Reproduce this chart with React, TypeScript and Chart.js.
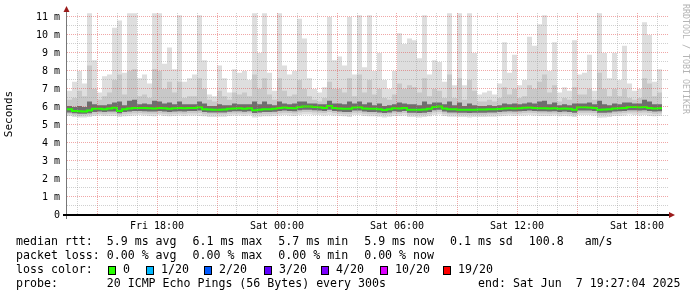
import React, { useEffect, useRef } from "react";
import { Chart, registerables } from "chart.js";

Chart.register(...registerables);

// ---- time window (hours since Fri 00:00) ----
const windowStartHour = 13.5;
const windowEndHour = 43.6;
const stepHours = 0.25;

// ---- axis tick labels ----
const xLabelHours = [18, 24, 30, 36, 42];
const xTickLabels = ["Fri 18:00", "Sat 00:00", "Sat 06:00", "Sat 12:00", "Sat 18:00"];
const yTickValues = [0, 1, 2, 3, 4, 5, 6, 7, 8, 9, 10, 11];
const yTickLabels = ["0", "1 m", "2 m", "3 m", "4 m", "5 m", "6 m", "7 m", "8 m", "9 m", "10 m", "11 m"];

// ---- series (ms) ----
const medianRtt = [
  5.88, 5.78, 5.76, 5.75, 5.8, 5.9, 5.9, 5.88, 5.92, 5.96, 5.78, 5.88, 5.92, 5.95, 5.95, 5.95, 5.93, 5.92, 5.95, 5.93, 5.9, 5.93, 5.95, 5.93, 5.95,
  5.95, 5.98, 5.88, 5.86, 5.85, 5.85, 5.86, 5.9, 5.92, 5.93, 5.9, 5.93, 5.82, 5.85, 5.88, 5.88, 5.9, 5.95, 5.97, 5.95, 5.93, 6.0, 6.02, 6.02,
  6.0, 5.98, 5.95, 6.05, 5.95, 5.92, 5.9, 5.9, 5.97, 5.98, 5.92, 5.9, 5.9, 5.88, 5.83, 5.88, 5.93, 5.92, 5.95, 5.85, 5.85, 5.84, 5.86, 5.9,
  6.0, 6.02, 5.92, 5.88, 5.88, 5.85, 5.85, 5.84, 5.85, 5.86, 5.86, 5.88, 5.88, 5.89, 5.92, 5.93, 5.92, 5.93, 5.96, 5.97, 5.95, 5.93, 5.93, 5.92,
  5.93, 5.9, 5.92, 5.9, 5.85, 5.98, 5.98, 5.97, 5.95, 5.85, 5.86, 5.87, 5.92, 5.93, 5.95, 6.0, 6.0, 5.98, 6.0, 5.95, 5.92, 5.93,
];

const smokeMax = [
  6.9, 7.4, 8.0, 7.3, 11.2, 8.6, 6.8, 7.7, 7.8, 10.4, 10.8, 7.9, 11.2, 11.2, 7.6, 7.8, 7.3, 11.2, 11.2, 8.4, 9.3, 8.1, 11.1, 7.4, 7.6,
  7.8, 11.1, 8.6, 6.7, 6.6, 8.3, 7.6, 6.8, 8.1, 7.9, 8.0, 7.5, 11.2, 9.0, 11.2, 7.9, 6.9, 11.2, 8.3, 7.8, 8.0, 10.9, 9.8, 7.6,
  7.0, 6.8, 7.1, 11.0, 8.6, 8.8, 8.3, 11.0, 7.8, 11.1, 8.2, 11.1, 8.0, 9.0, 7.5, 7.0, 8.0, 10.1, 9.5, 9.8, 9.7, 8.7, 11.1, 7.8,
  8.6, 8.5, 7.4, 11.2, 7.2, 11.2, 7.2, 11.2, 9.0, 6.7, 6.8, 6.9, 6.7, 7.3, 9.6, 7.9, 8.9, 7.2, 7.5, 9.9, 9.4, 10.6, 11.1, 8.0,
  9.6, 6.8, 7.1, 6.9, 9.7, 7.8, 7.9, 8.9, 6.9, 11.2, 9.0, 7.6, 9.0, 7.5, 9.4, 7.3, 6.9, 7.0, 10.7, 10.0, 7.4, 8.1,
];

const smokeHigh = [
  6.4, 6.5, 6.9, 6.6, 8.3, 7.0, 6.4, 6.6, 6.8, 7.5, 7.8, 6.7, 8.0, 8.1, 6.6, 6.7, 6.5, 8.1, 8.0, 7.0, 7.4, 6.8, 7.4, 6.5, 6.6,
  6.6, 7.6, 7.0, 6.4, 6.3, 6.9, 6.6, 6.4, 6.8, 6.7, 6.8, 6.6, 7.8, 7.0, 7.6, 6.7, 6.4, 7.6, 6.9, 6.6, 6.7, 7.5, 7.0, 6.6,
  6.4, 6.3, 6.5, 7.4, 7.0, 7.0, 6.8, 7.6, 6.6, 7.8, 6.8, 7.5, 6.7, 7.0, 6.5, 6.4, 6.7, 7.3, 7.0, 7.2, 7.1, 6.8, 7.6, 6.6,
  7.0, 6.9, 6.5, 7.8, 6.5, 7.6, 6.4, 7.5, 6.9, 6.3, 6.3, 6.4, 6.3, 6.5, 7.1, 6.7, 7.0, 6.5, 6.6, 7.2, 7.0, 7.4, 7.8, 6.8,
  7.2, 6.3, 6.5, 6.4, 7.1, 6.7, 6.7, 7.0, 6.4, 7.9, 7.0, 6.6, 7.0, 6.6, 7.0, 6.5, 6.4, 6.5, 7.6, 7.3, 6.6, 6.8,
];

const smokeUpper = [
  6.05, 6.0, 6.05, 6.0, 6.3, 6.15, 6.1, 6.1, 6.15, 6.25, 6.3, 6.1, 6.35, 6.4, 6.15, 6.2, 6.15, 6.35, 6.3, 6.2, 6.25, 6.15, 6.3, 6.15, 6.15,
  6.15, 6.3, 6.2, 6.05, 6.05, 6.15, 6.1, 6.1, 6.2, 6.15, 6.15, 6.15, 6.3, 6.15, 6.3, 6.15, 6.1, 6.3, 6.2, 6.15, 6.2, 6.3, 6.3, 6.2,
  6.2, 6.15, 6.15, 6.35, 6.2, 6.2, 6.15, 6.3, 6.2, 6.3, 6.15, 6.25, 6.1, 6.2, 6.05, 6.1, 6.15, 6.25, 6.2, 6.15, 6.15, 6.1, 6.3, 6.15,
  6.25, 6.25, 6.15, 6.3, 6.1, 6.25, 6.05, 6.2, 6.1, 6.05, 6.05, 6.1, 6.05, 6.1, 6.2, 6.15, 6.2, 6.15, 6.2, 6.25, 6.2, 6.3, 6.35, 6.15,
  6.25, 6.1, 6.15, 6.1, 6.2, 6.2, 6.2, 6.25, 6.15, 6.35, 6.15, 6.1, 6.2, 6.15, 6.25, 6.25, 6.2, 6.2, 6.4, 6.3, 6.15, 6.15,
];

const smokeLower = [
  5.7, 5.65, 5.62, 5.62, 5.65, 5.72, 5.75, 5.72, 5.75, 5.75, 5.65, 5.72, 5.75, 5.78, 5.78, 5.76, 5.75, 5.75, 5.78, 5.75, 5.72, 5.75, 5.76, 5.75, 5.78,
  5.78, 5.8, 5.72, 5.7, 5.7, 5.7, 5.7, 5.74, 5.76, 5.76, 5.74, 5.76, 5.66, 5.7, 5.72, 5.72, 5.74, 5.78, 5.8, 5.78, 5.76, 5.82, 5.84, 5.84,
  5.82, 5.8, 5.78, 5.85, 5.78, 5.75, 5.72, 5.72, 5.8, 5.8, 5.75, 5.72, 5.72, 5.7, 5.66, 5.7, 5.76, 5.74, 5.78, 5.68, 5.68, 5.66, 5.68, 5.72,
  5.82, 5.84, 5.75, 5.7, 5.7, 5.68, 5.68, 5.66, 5.68, 5.68, 5.68, 5.7, 5.7, 5.72, 5.75, 5.76, 5.75, 5.76, 5.78, 5.8, 5.78, 5.76, 5.76, 5.75,
  5.76, 5.72, 5.75, 5.72, 5.68, 5.8, 5.8, 5.8, 5.78, 5.68, 5.68, 5.7, 5.75, 5.76, 5.78, 5.82, 5.82, 5.8, 5.82, 5.78, 5.75, 5.76,
];

const smokeLow = [
  5.6, 5.55, 5.5, 5.52, 5.55, 5.6, 5.62, 5.6, 5.62, 5.62, 5.55, 5.6, 5.62, 5.65, 5.66, 5.64, 5.62, 5.62, 5.65, 5.62, 5.6, 5.62, 5.64, 5.62, 5.65,
  5.65, 5.66, 5.6, 5.58, 5.58, 5.58, 5.58, 5.62, 5.64, 5.64, 5.62, 5.64, 5.55, 5.58, 5.6, 5.6, 5.62, 5.65, 5.68, 5.66, 5.64, 5.7, 5.72, 5.72,
  5.7, 5.68, 5.66, 5.72, 5.66, 5.62, 5.6, 5.6, 5.68, 5.68, 5.62, 5.6, 5.6, 5.58, 5.55, 5.58, 5.64, 5.62, 5.66, 5.56, 5.56, 5.55, 5.56, 5.6,
  5.7, 5.72, 5.62, 5.58, 5.58, 5.56, 5.56, 5.55, 5.56, 5.56, 5.56, 5.58, 5.58, 5.6, 5.62, 5.64, 5.62, 5.64, 5.66, 5.68, 5.66, 5.64, 5.64, 5.62,
  5.64, 5.6, 5.62, 5.6, 5.56, 5.68, 5.68, 5.68, 5.66, 5.55, 5.56, 5.58, 5.62, 5.64, 5.66, 5.7, 5.7, 5.68, 5.7, 5.66, 5.62, 5.64,
];

const smokeMin = [
  5.5, 5.45, 5.42, 5.42, 5.45, 5.5, 5.52, 5.5, 5.5, 5.5, 5.45, 5.48, 5.5, 5.52, 5.55, 5.52, 5.5, 5.48, 5.55, 5.5, 5.48, 5.5, 5.52, 5.5, 5.52,
  5.52, 5.5, 5.48, 5.45, 5.45, 5.46, 5.46, 5.5, 5.52, 5.52, 5.5, 5.52, 5.42, 5.46, 5.48, 5.48, 5.5, 5.52, 5.55, 5.52, 5.5, 5.55, 5.58, 5.58,
  5.55, 5.55, 5.52, 5.55, 5.52, 5.5, 5.48, 5.45, 5.55, 5.55, 5.5, 5.48, 5.48, 5.46, 5.42, 5.46, 5.5, 5.5, 5.52, 5.45, 5.44, 5.42, 5.44, 5.48,
  5.55, 5.58, 5.5, 5.46, 5.46, 5.44, 5.44, 5.42, 5.44, 5.45, 5.45, 5.46, 5.46, 5.48, 5.5, 5.52, 5.5, 5.52, 5.52, 5.55, 5.52, 5.5, 5.5, 5.5,
  5.52, 5.48, 5.5, 5.48, 5.44, 5.55, 5.55, 5.55, 5.52, 5.4, 5.42, 5.45, 5.5, 5.5, 5.52, 5.58, 5.55, 5.52, 5.55, 5.5, 5.48, 5.5,
];

// ---- legend texts ----
const rttStats = ["median rtt:  5.9 ms avg", "6.1 ms max", "5.7 ms min", "5.9 ms now", "0.1 ms sd", "100.8   am/s"];
const lossStats = ["packet loss: 0.00 % avg", "0.00 % max", "0.00 % min", "0.00 % now"];
const lossColorLabels = ["0", "1/20", "2/20", "3/20", "4/20", "10/20", "19/20"];
const lossColors = ["#26ff00", "#00b8ff", "#0059ff", "#5e00ff", "#7e00ff", "#dd00ff", "#ff0000"];
const probeText = "probe:       20 ICMP Echo Pings (56 Bytes) every 300s";
const endText = "end: Sat Jun  7 19:27:04 2025";
const watermark = "RRDTOOL / TOBI OETIKER";

// ---- layout / style ----
const MONO = "'DejaVu Sans Mono', monospace";
const MAJOR = "rgba(222, 60, 60, 0.45)";
const MINOR = "rgba(150, 150, 150, 0.45)";
const lossBoxX = [108, 146, 204, 264, 321, 380, 443];

const toPoints = (vals: number[]) => {
  const pts = vals.map((v, i) => ({ x: windowStartHour + i * stepHours, y: v }));
  pts.push({ x: windowStartHour + vals.length * stepHours, y: vals[vals.length - 1] });
  return pts;
};

const band = (lo: number[], hi: number[], color: string) => [
  { data: toPoints(lo), borderColor: "rgba(0,0,0,0)", borderWidth: 0, pointRadius: 0, fill: false, stepped: true },
  { data: toPoints(hi), borderColor: "rgba(0,0,0,0)", borderWidth: 0, pointRadius: 0, fill: "-1", backgroundColor: color, stepped: true },
];

const axesPlugin = {
  id: "rrdAxes",
  afterDraw(chart: any) {
    const { ctx, chartArea } = chart;
    const yScale = chart.scales.y;
    const left = chartArea.left;
    const zeroY = Math.round(yScale.getPixelForValue(0));
    ctx.save();
    // y axis
    ctx.strokeStyle = "#777";
    ctx.lineWidth = 1;
    ctx.beginPath();
    ctx.moveTo(left - 0.5, chartArea.top - 2);
    ctx.lineTo(left - 0.5, zeroY + 4);
    ctx.stroke();
    // x axis
    ctx.fillStyle = "#000";
    ctx.fillRect(left - 4, zeroY - 1, chartArea.right - left + 5, 2);
    // arrows
    ctx.fillStyle = "#9b1b1b";
    ctx.beginPath();
    ctx.moveTo(left - 0.5, chartArea.top - 7);
    ctx.lineTo(left - 3.5, chartArea.top - 1);
    ctx.lineTo(left + 2.5, chartArea.top - 1);
    ctx.closePath();
    ctx.fill();
    ctx.beginPath();
    ctx.moveTo(chartArea.right + 6, zeroY);
    ctx.lineTo(chartArea.right, zeroY - 3);
    ctx.lineTo(chartArea.right, zeroY + 3);
    ctx.closePath();
    ctx.fill();
    ctx.restore();
  },
};

const hourlyTicks: number[] = [];
for (let h = Math.ceil(windowStartHour); h <= Math.floor(windowEndHour); h++) hourlyTicks.push(h);
const halfTicks: number[] = [];
for (let k = 0; k <= 22; k++) halfTicks.push(k * 0.5);

export default function App() {
  const ref = useRef<HTMLCanvasElement | null>(null);

  useEffect(() => {
    if (!ref.current) return;
    const chart = new Chart(ref.current, {
      type: "line",
      data: {
        datasets: [
          { label: "median", data: toPoints(medianRtt), borderColor: "#26ff00", borderWidth: 2, pointRadius: 0, fill: false, stepped: true },
          ...band(smokeLower, smokeUpper, "#6e6e6e"),
          ...band(smokeLow, smokeHigh, "#c8c8c8"),
          ...band(smokeMin, smokeMax, "#dedede"),
        ] as any,
      },
      options: {
        responsive: false,
        animation: false,
        devicePixelRatio: 1,
        events: [],
        layout: { padding: { top: 13, right: 28, left: 0, bottom: 0 } },
        plugins: { legend: { display: false }, tooltip: { enabled: false } },
        scales: {
          x: {
            type: "linear",
            min: windowStartHour,
            max: windowEndHour,
            afterBuildTicks: (s: any) => {
              s.ticks = hourlyTicks.map((v) => ({ value: v }));
            },
            afterFit: (s: any) => {
              s.height = 82;
            },
            grid: {
              color: (c: any) => (c.tick && c.tick.value % 3 === 0 ? MAJOR : MINOR),
              lineWidth: 1,
              drawTicks: false,
              z: 1,
            },
            border: { display: false, dash: [1, 1] },
            ticks: {
              autoSkip: false,
              maxRotation: 0,
              minRotation: 0,
              padding: 5,
              color: "#000",
              font: { family: MONO, size: 10 },
              callback: (v: any) => {
                const i = xLabelHours.indexOf(Number(v));
                return i >= 0 ? xTickLabels[i] : "";
              },
            },
          },
          y: {
            type: "linear",
            min: 0,
            max: 11.22,
            afterBuildTicks: (s: any) => {
              s.ticks = halfTicks.map((v) => ({ value: v }));
            },
            afterFit: (s: any) => {
              s.width = 67;
            },
            grid: {
              color: (c: any) => (c.tick && c.tick.value % 1 === 0 ? MAJOR : MINOR),
              lineWidth: 1,
              drawTicks: false,
              z: 1,
            },
            border: { display: false, dash: [1, 1] },
            ticks: {
              autoSkip: false,
              padding: 7,
              color: "#000",
              font: { family: MONO, size: 10 },
              callback: (v: any) => {
                const i = yTickValues.indexOf(Number(v));
                return i >= 0 ? yTickLabels[i] : "";
              },
            },
            title: {
              display: true,
              text: "Seconds",
              color: "#000",
              font: { family: MONO, size: 11 },
              padding: { top: 3, bottom: 0 },
            },
          },
        },
      } as any,
      plugins: [axesPlugin],
    });
    return () => chart.destroy();
  }, []);

  const textStyle: React.CSSProperties = {
    position: "absolute",
    fontFamily: MONO,
    fontSize: "11.6px",
    lineHeight: "14px",
    color: "#000",
    whiteSpace: "pre",
  };

  return (
    <div style={{ position: "absolute", left: 0, top: 0, width: 697, height: 297, background: "#fff", overflow: "hidden" }}>
      <canvas ref={ref} width={697} height={297} style={{ position: "absolute", left: 0, top: 0 }} />
      <div
        style={{
          position: "absolute",
          left: 681,
          top: 4,
          writingMode: "vertical-rl",
          fontFamily: MONO,
          fontSize: "8.3px",
          lineHeight: "10px",
          color: "#b4b4b4",
          whiteSpace: "pre",
        }}
      >
        {watermark}
      </div>
      <div style={{ ...textStyle, left: 16, top: 234, display: "flex", gap: "16px" }}>
        {rttStats.map((t, i) => (
          <span key={i}>{t}</span>
        ))}
      </div>
      <div style={{ ...textStyle, left: 16, top: 248, display: "flex", gap: "16px" }}>
        {lossStats.map((t, i) => (
          <span key={i}>{t}</span>
        ))}
      </div>
      <div style={{ ...textStyle, left: 16, top: 262 }}>loss color:</div>
      {lossColorLabels.map((t, i) => (
        <React.Fragment key={i}>
          <div
            style={{
              position: "absolute",
              left: lossBoxX[i],
              top: 266,
              width: 8,
              height: 9,
              boxSizing: "border-box",
              border: "1px solid #000",
              background: lossColors[i],
            }}
          />
          <div style={{ ...textStyle, left: lossBoxX[i] + 15, top: 262 }}>{t}</div>
        </React.Fragment>
      ))}
      <div style={{ ...textStyle, left: 16, top: 276 }}>{probeText}</div>
      <div style={{ ...textStyle, left: 478, top: 276 }}>{endText}</div>
    </div>
  );
}
